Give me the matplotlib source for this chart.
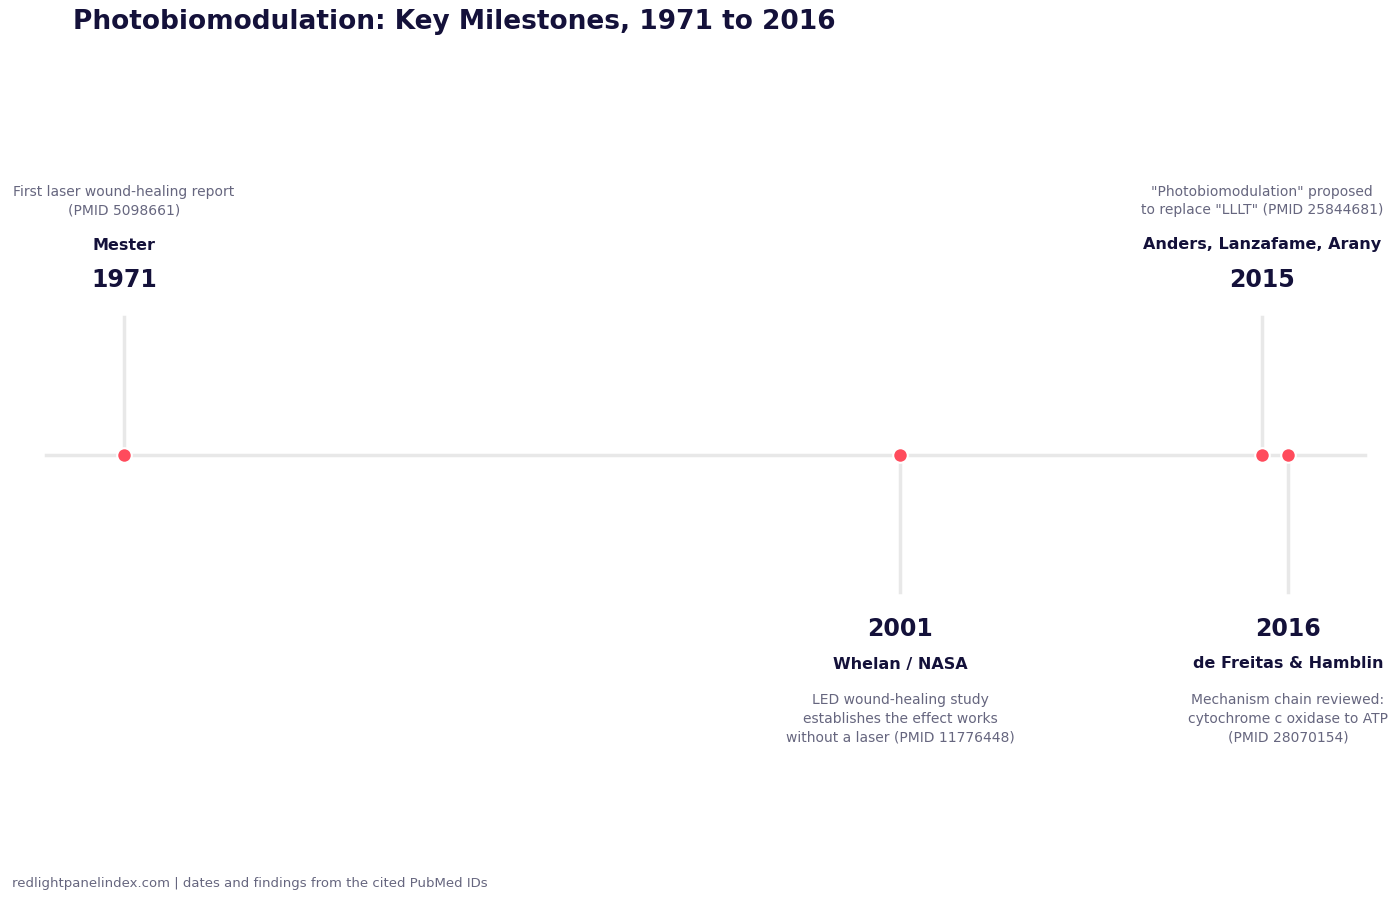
import matplotlib
matplotlib.use("Agg")
import matplotlib.pyplot as plt

years = [1971, 2001, 2015, 2016]
names = ["Mester", "Whelan / NASA", "Anders, Lanzafame, Arany", "de Freitas & Hamblin"]
descs = ["First laser wound-healing report\n(PMID 5098661)",
         "LED wound-healing study\nestablishes the effect works\nwithout a laser (PMID 11776448)",
         "\"Photobiomodulation\" proposed\nto replace \"LLLT\" (PMID 25844681)",
         "Mechanism chain reviewed:\ncytochrome c oxidase to ATP\n(PMID 28070154)"]
sides = [1, -1, 1, -1]

DARK = "#14113a"; GRAY = "#66667f"; LINE = "#e8e8e8"; DOT = "#ff4b5c"

fig = plt.figure(figsize=(14, 9), dpi=100)
ax = fig.add_axes([0, 0, 1, 1])
ppy = (900 - 124) / 30.0
x0 = 1971 - 124 / ppy
ax.set_xlim(x0, x0 + 1400 / ppy)
ax.set_ylim(900, 0)
ax.axis("off")

base = 455
ax.plot([x0 + 46 / ppy, x0 + 1365 / ppy], [base, base], color=LINE, lw=2.5, zorder=1)
for yr, nm, ds, s in zip(years, names, descs, sides):
    if s > 0:
        ax.plot([yr, yr], [317, base], color=LINE, lw=2.5, zorder=1)
        ax.text(yr, 280, str(yr), ha="center", va="center", fontsize=17, fontweight="bold", color=DARK)
        ax.text(yr, 245, nm, ha="center", va="center", fontsize=11.5, fontweight="bold", color=DARK)
        ax.text(yr, 201, ds, ha="center", va="center", fontsize=10, color=GRAY, linespacing=1.45)
    else:
        ax.plot([yr, yr], [base, 592], color=LINE, lw=2.5, zorder=1)
        ax.text(yr, 629, str(yr), ha="center", va="center", fontsize=17, fontweight="bold", color=DARK)
        ax.text(yr, 664, nm, ha="center", va="center", fontsize=11.5, fontweight="bold", color=DARK)
        ax.text(yr, 719, ds, ha="center", va="center", fontsize=10, color=GRAY, linespacing=1.45)
ax.scatter(years, [base] * len(years), s=110, color=DOT, edgecolor="white", linewidth=1.5, zorder=3)

fig.text(73 / 1400, 1 - 22 / 900, "Photobiomodulation: Key Milestones, 1971 to 2016",
         ha="left", va="center", fontsize=19, fontweight="bold", color=DARK)
fig.text(12 / 1400, 1 - 884 / 900, "redlightpanelindex.com | dates and findings from the cited PubMed IDs",
         ha="left", va="center", fontsize=9.5, color=GRAY)
fig.savefig("out.png", dpi=100, facecolor="white")
